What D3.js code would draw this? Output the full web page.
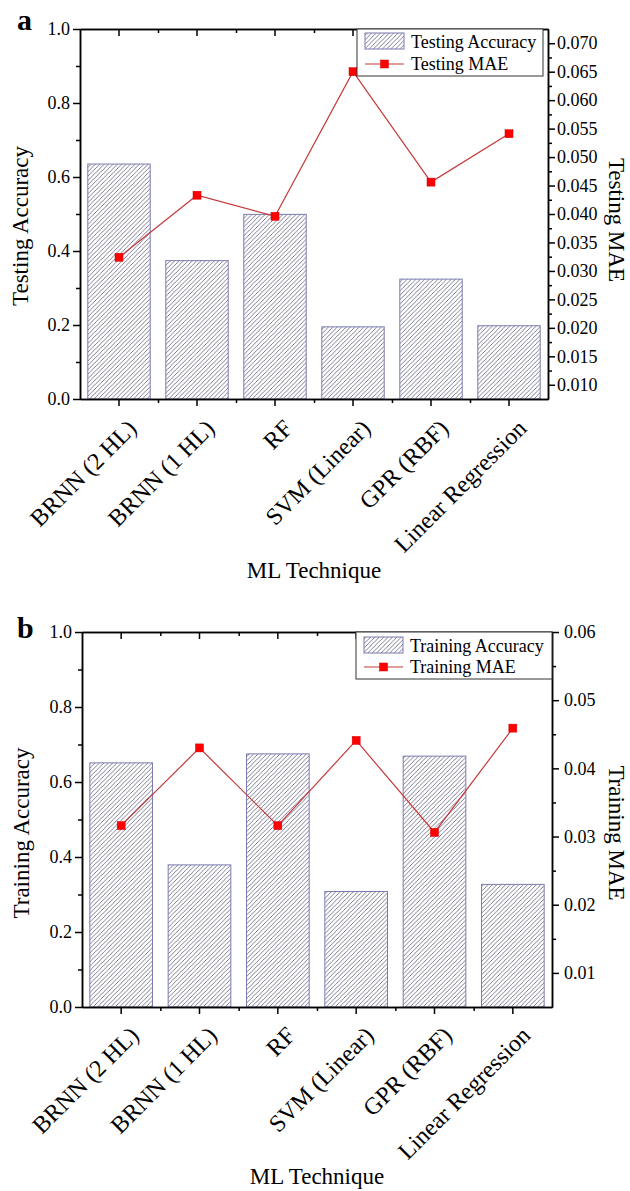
<!DOCTYPE html>
<html>
<head>
<meta charset="utf-8">
<script src="https://cdn.jsdelivr.net/npm/d3@7"></script>
<style>
  html, body { margin: 0; padding: 0; background: #fff; }
  svg { display: block; font-family: "Liberation Serif", "Times New Roman", serif; }
</style>
</head>
<body>
<svg id="chart" width="630" height="1191"></svg>
<script>
// ---- data ----
const categories = ["BRNN (2 HL)", "BRNN (1 HL)", "RF", "SVM (Linear)", "GPR (RBF)", "Linear Regression"];

const testingAccuracy = [0.635, 0.374, 0.499, 0.195, 0.324, 0.198];
const testingMAE      = [0.0324, 0.0433, 0.0396, 0.0650, 0.0456, 0.0541];

const trainingAccuracy = [0.651, 0.379, 0.675, 0.308, 0.669, 0.327];
const trainingMAE      = [0.0316, 0.0430, 0.0316, 0.0441, 0.0306, 0.0459];

const accuracyTicks      = [0.0, 0.2, 0.4, 0.6, 0.8, 1.0];
const accuracyMinorTicks = [0.1, 0.3, 0.5, 0.7, 0.9];
const testingMAETicks    = [0.010, 0.015, 0.020, 0.025, 0.030, 0.035, 0.040, 0.045, 0.050, 0.055, 0.060, 0.065, 0.070];
const testingMAEMinor    = [0.0125, 0.0175, 0.0225, 0.0275, 0.0325, 0.0375, 0.0425, 0.0475, 0.0525, 0.0575, 0.0625, 0.0675];
const trainingMAETicks   = [0.01, 0.02, 0.03, 0.04, 0.05, 0.06];
const trainingMAEMinor   = [0.015, 0.025, 0.035, 0.045, 0.055];

// ---- layout of the two panels ----
const panels = [
  {
    letter: "a", letterY: 30,
    left: 80, right: 548, top: 29, bottom: 399,
    acc: testingAccuracy, mae: testingMAE,
    maeDomain: [0.0075, 0.0725], maeTicks: testingMAETicks, maeMinor: testingMAEMinor, maeFmt: ".3f",
    rightLabelGap: 2,
    accTitle: "Testing Accuracy", maeTitle: "Testing MAE",
    leftTitleX: 28, rightTitleX: 609, leftTitleCY: 226, rightTitleCY: 220,
    xTitleY: 578, xLabelDrop: 19,
    legend: { x: 357, y: 29, w: 186, h: 47, row1: 48, row2: 70, lineY: 64 },
    legendNames: ["Testing Accuracy", "Testing MAE"]
  },
  {
    letter: "b", letterY: 638,
    left: 82, right: 552, top: 632, bottom: 1007,
    acc: trainingAccuracy, mae: trainingMAE,
    maeDomain: [0.005, 0.06], maeTicks: trainingMAETicks, maeMinor: trainingMAEMinor, maeFmt: ".2f",
    rightLabelGap: 5,
    accTitle: "Training Accuracy", maeTitle: "Training MAE",
    leftTitleX: 29, rightTitleX: 609, leftTitleCY: 833, rightTitleCY: 833,
    xTitleY: 1184, xLabelDrop: 18,
    legend: { x: 356, y: 632, w: 196, h: 47, row1: 652, row2: 673, lineY: 667 },
    legendNames: ["Training Accuracy", "Training MAE"]
  }
];

const svg = d3.select("#chart");

// diagonal hatch used by the bars
const defs = svg.append("defs");
const hatch = defs.append("pattern")
  .attr("id", "hatch")
  .attr("patternUnits", "userSpaceOnUse")
  .attr("width", 4.4).attr("height", 4.4);
hatch.append("rect").attr("width", 4.4).attr("height", 4.4).attr("fill", "#fff");
hatch.append("path")
  .attr("d", "M-1,1 L1,-1 M0,4.4 L4.4,0 M3.4,5.4 L5.4,3.4")
  .attr("stroke", "#5c5c7c").attr("stroke-width", 0.8);

const BAR_STROKE = "#7b7bb0";
const LINE_COLOR = "#c43a3a";
const MARKER_FILL = "#ff0000";
const AXIS_W = 1.5;

function styleAxis(sel) {
  sel.selectAll(".domain").attr("stroke", "#000").attr("stroke-width", AXIS_W);
  sel.selectAll(".tick line").attr("stroke", "#000").attr("stroke-width", AXIS_W);
  sel.selectAll(".tick text").attr("fill", "#000")
    .style("font-family", "Liberation Serif").style("font-size", "18px");
}

panels.forEach(p => {
  const g = svg.append("g");

  const x = d3.scaleBand().domain(categories).range([p.left, p.right])
    .paddingInner(0.2).paddingOuter(0.1);
  const xEdge = d3.scaleLinear().domain([0, categories.length]).range([p.left, p.right]);
  const yAcc = d3.scaleLinear().domain([0, 1]).range([p.bottom, p.top]);
  const yMae = d3.scaleLinear().domain(p.maeDomain).range([p.bottom, p.top]);

  // bars
  g.append("g").selectAll("rect")
    .data(p.acc)
    .join("rect")
    .attr("x", (d, i) => x(categories[i]))
    .attr("y", d => yAcc(d))
    .attr("width", x.bandwidth())
    .attr("height", d => yAcc(0) - yAcc(d))
    .attr("fill", "url(#hatch)")
    .attr("stroke", BAR_STROKE)
    .attr("stroke-width", 1);

  // MAE line + markers
  const line = d3.line()
    .x((d, i) => x(categories[i]) + x.bandwidth() / 2)
    .y(d => yMae(d));
  g.append("path").datum(p.mae)
    .attr("d", line).attr("fill", "none")
    .attr("stroke", LINE_COLOR).attr("stroke-width", 1.2);
  g.append("g").selectAll("rect")
    .data(p.mae)
    .join("rect")
    .attr("x", (d, i) => x(categories[i]) + x.bandwidth() / 2 - 4)
    .attr("y", d => yMae(d) - 4)
    .attr("width", 8).attr("height", 8)
    .attr("fill", MARKER_FILL)
    .attr("stroke", "#d40000").attr("stroke-width", 0.5);

  // left axis
  const leftMinor = g.append("g").attr("transform", `translate(${p.left},0)`)
    .call(d3.axisLeft(yAcc).tickValues(accuracyMinorTicks).tickSize(4).tickSizeOuter(0).tickFormat(""));
  styleAxis(leftMinor);
  const leftAxis = g.append("g").attr("transform", `translate(${p.left},0)`)
    .call(d3.axisLeft(yAcc).tickValues(accuracyTicks).tickSize(7).tickSizeOuter(0)
      .tickPadding(3).tickFormat(d3.format(".1f")));
  styleAxis(leftAxis);

  // right axis
  const rightMinor = g.append("g").attr("transform", `translate(${p.right},0)`)
    .call(d3.axisRight(yMae).tickValues(p.maeMinor).tickSize(4).tickSizeOuter(0).tickFormat(""));
  styleAxis(rightMinor);
  const rightAxis = g.append("g").attr("transform", `translate(${p.right},0)`)
    .call(d3.axisRight(yMae).tickValues(p.maeTicks).tickSize(7).tickSizeOuter(0)
      .tickPadding(p.rightLabelGap).tickFormat(d3.format(p.maeFmt)));
  styleAxis(rightAxis);

  // bottom axis: major ticks at the categories, minor at the band edges
  const bottomMinor = g.append("g").attr("transform", `translate(0,${p.bottom})`)
    .call(d3.axisBottom(xEdge).tickValues([1, 2, 3, 4, 5]).tickSize(4).tickSizeOuter(0).tickFormat(""));
  styleAxis(bottomMinor);
  const bottomAxis = g.append("g").attr("transform", `translate(0,${p.bottom})`)
    .call(d3.axisBottom(x).tickSize(7).tickSizeOuter(0));
  styleAxis(bottomAxis);
  bottomAxis.selectAll(".tick text")
    .style("font-size", "24px")
    .attr("text-anchor", "end")
    .attr("x", 7).attr("y", p.xLabelDrop).attr("dy", "0.7em")
    .attr("transform", `rotate(-45, 7, ${p.xLabelDrop})`);

  // top axis: ticks point into the plot
  const topMinor = g.append("g").attr("transform", `translate(0,${p.top})`)
    .call(d3.axisBottom(xEdge).tickValues([1, 2, 3, 4, 5]).tickSize(4).tickSizeOuter(0).tickFormat(""));
  styleAxis(topMinor);
  const topAxis = g.append("g").attr("transform", `translate(0,${p.top})`)
    .call(d3.axisBottom(x).tickSize(7).tickSizeOuter(0).tickFormat(""));
  styleAxis(topAxis);

  // axis titles
  g.append("text")
    .attr("transform", `translate(${p.leftTitleX},${p.leftTitleCY}) rotate(-90)`)
    .attr("text-anchor", "middle").style("font-size", "23px")
    .text(p.accTitle);
  g.append("text")
    .attr("transform", `translate(${p.rightTitleX},${p.rightTitleCY}) rotate(90)`)
    .attr("text-anchor", "middle").style("font-size", "23px")
    .text(p.maeTitle);
  g.append("text")
    .attr("x", (p.left + p.right) / 2).attr("y", p.xTitleY)
    .attr("text-anchor", "middle").style("font-size", "23px")
    .text("ML Technique");

  // panel letter
  g.append("text")
    .attr("x", 17).attr("y", p.letterY)
    .style("font-size", "30px").style("font-weight", "bold")
    .text(p.letter);

  // legend
  const L = p.legend;
  const lg = g.append("g");
  lg.append("rect")
    .attr("x", L.x).attr("y", L.y).attr("width", L.w).attr("height", L.h)
    .attr("fill", "#fff").attr("stroke", "#333").attr("stroke-width", 1);
  lg.append("rect")
    .attr("x", L.x + 8).attr("y", L.row1 - 15).attr("width", 39).attr("height", 16)
    .attr("fill", "url(#hatch)").attr("stroke", BAR_STROKE).attr("stroke-width", 1);
  lg.append("text").attr("x", L.x + 54).attr("y", L.row1)
    .style("font-size", "18px").text(p.legendNames[0]);
  lg.append("line")
    .attr("x1", L.x + 8).attr("x2", L.x + 47).attr("y1", L.lineY).attr("y2", L.lineY)
    .attr("stroke", LINE_COLOR).attr("stroke-width", 1.2);
  lg.append("rect")
    .attr("x", L.x + 27.5 - 4).attr("y", L.lineY - 4).attr("width", 8).attr("height", 8)
    .attr("fill", MARKER_FILL).attr("stroke", "#d40000").attr("stroke-width", 0.5);
  lg.append("text").attr("x", L.x + 54).attr("y", L.row2)
    .style("font-size", "18px").text(p.legendNames[1]);
});
</script>
</body>
</html>
